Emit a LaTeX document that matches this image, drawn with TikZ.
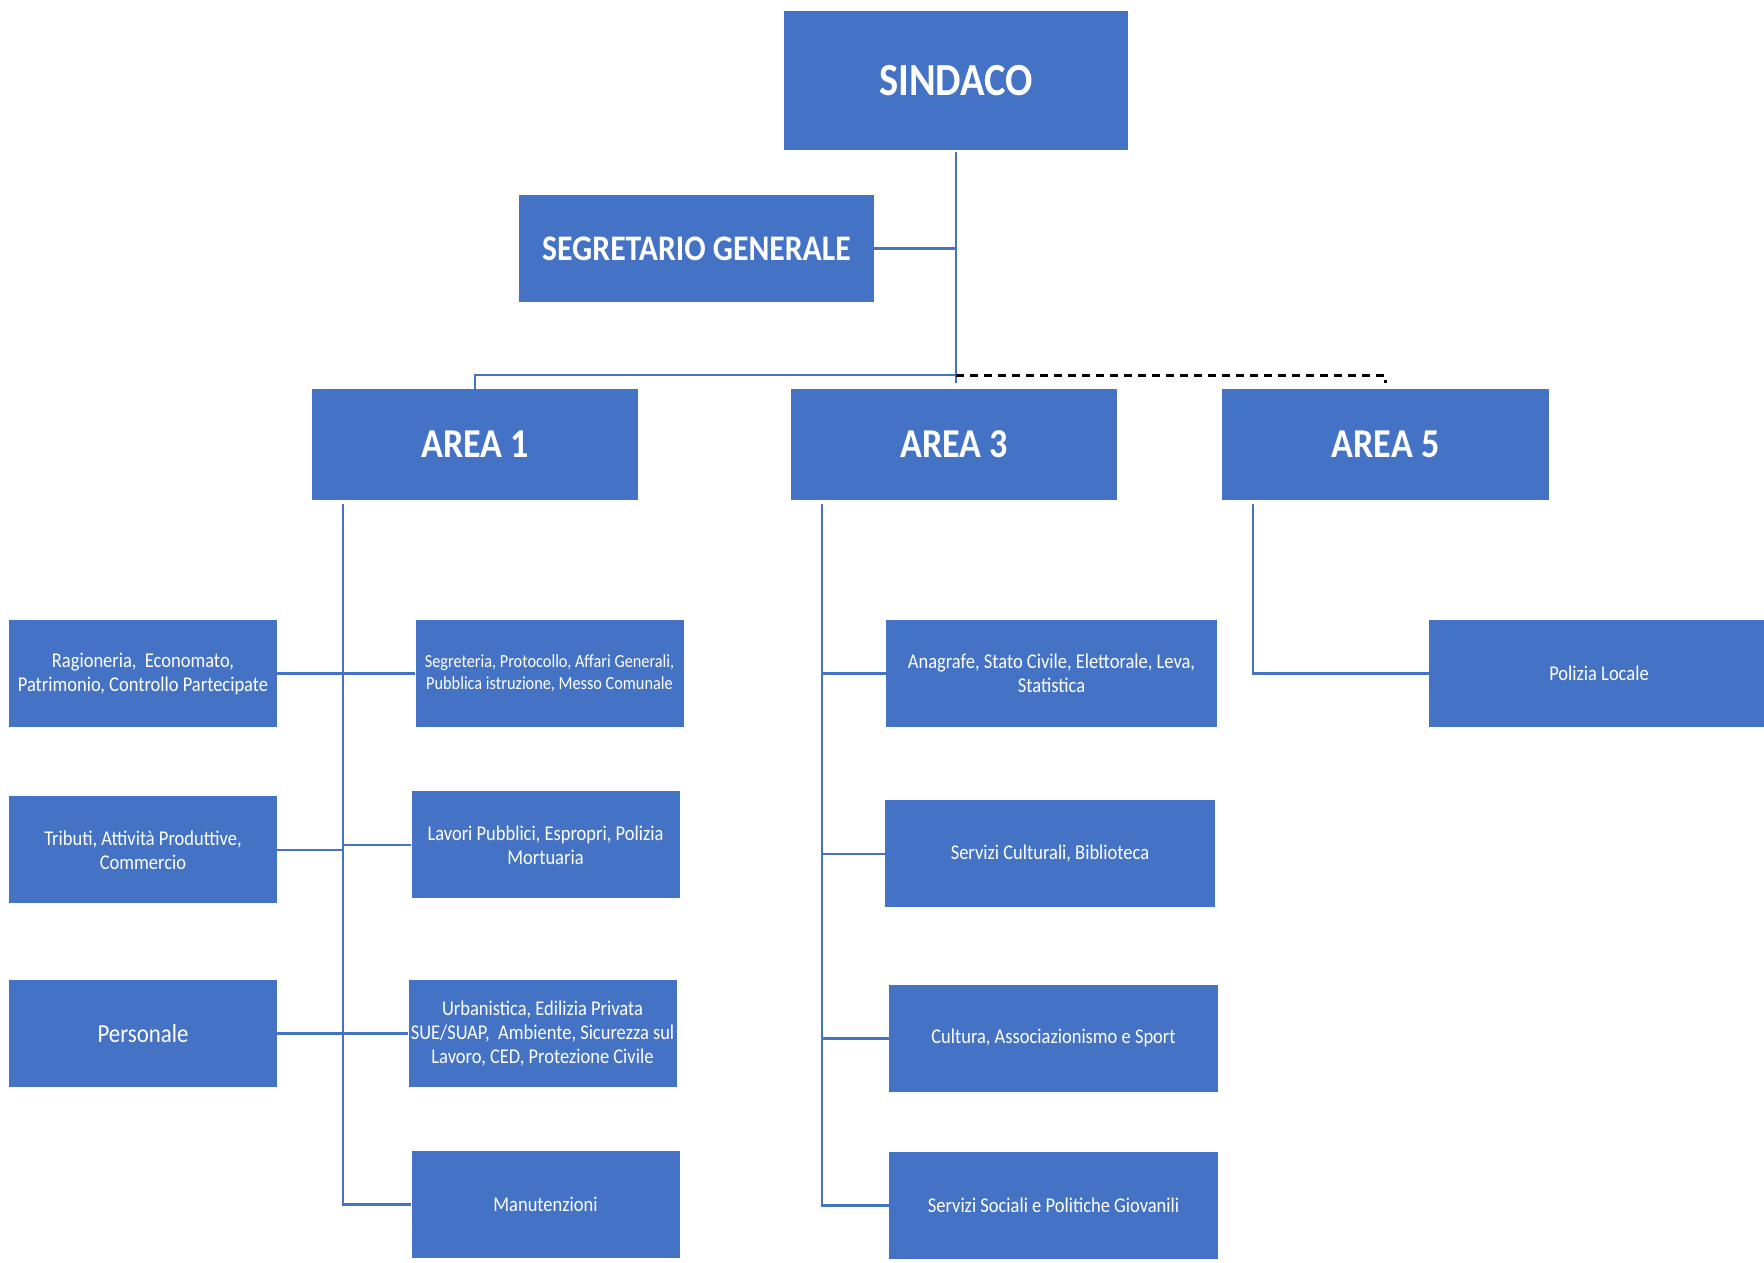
\documentclass[tikz,border=0pt]{standalone}
\usepackage{fontspec}
\setmainfont{Carlito}[FakeStretch=0.88]
\usepackage{xcolor}
\definecolor{ofblue}{HTML}{4472C4}
\usepackage{tikz}
\usetikzlibrary{positioning}

\tikzset{
  box/.style={fill=ofblue, text=white, align=center, inner sep=0pt, minimum height=107pt},
  head/.style={box, font=\bfseries\fontsize{41}{48}\selectfont},
  unit/.style={box, minimum width=268pt, font=\fontsize{21}{24}\selectfont},
  link/.style={draw=ofblue, line width=2.5pt},
}

\begin{document}
\begin{tikzpicture}[x=1pt, y=-1pt]
    \fill[white] (0,0) rectangle (1764,1263);
    \useasboundingbox (0,0) rectangle (1764,1263);

    \node [head, minimum width=344pt, minimum height=139pt, font=\bfseries\fontsize{46}{52}\selectfont] (sindaco) at (956,80.5) {SINDACO};
    \node [head, minimum width=355pt, font=\bfseries\fontsize{36}{42}\selectfont] (segr) at (696.5,248.5) {SEGRETARIO GENERALE};

    \node [head, minimum width=326pt, minimum height=111pt] (area1) at (475,444.5) {AREA 1};
    \node [head, minimum width=326pt, minimum height=111pt] (area3) at (954,444.5) {AREA 3};
    \node [head, minimum width=327pt, minimum height=111pt] (area5) at (1385.5,444.5) {AREA 5};

    \node [unit] (ragion) at (143,673.5) {Ragioneria,\ \ Economato,\\Patrimonio, Controllo Partecipate};
    \node [unit, below=69pt of ragion] (tributi) {Tributi, Attività Produttive,\\Commercio};
    \node [unit, below=76pt of tributi, font=\fontsize{26}{30}\selectfont] (personale) {Personale};

    \node [unit, font=\fontsize{18.5}{22}\selectfont] (segreteria) at (549.5,673.5) {Segreteria, Protocollo, Affari Generali,\\Pubblica istruzione, Messo Comunale};
    \node [unit, below=64pt of segreteria, xshift=-4pt] (lavori) {Lavori Pubblici, Espropri, Polizia\\Mortuaria};
    \node [unit, below=81pt of lavori, xshift=-3pt] (urban) {Urbanistica, Edilizia Privata\\SUE/SUAP,\ \ Ambiente, Sicurezza sul\\Lavoro, CED, Protezione Civile};
    \node [unit, below=64pt of urban, xshift=3pt] (manut) {Manutenzioni};

    \node [unit, minimum width=331pt] (anagrafe) at (1051.5,673.5) {Anagrafe, Stato Civile, Elettorale, Leva,\\Statistica};
    \node [unit, minimum width=330pt, below=73pt of anagrafe, xshift=-1.5pt] (servcult) {Servizi Culturali, Biblioteca};
    \node [unit, minimum width=329pt, below=77pt of servcult, xshift=3.5pt] (cultura) {Cultura, Associazionismo e Sport};
    \node [unit, minimum width=329pt, below=60pt of cultura] (servsoc) {Servizi Sociali e Politiche Giovanili};

    \node [unit, minimum width=340pt] (polizia) at (1599,673.5) {Polizia Locale};

    \coordinate (bus) at (sindaco.south |- 0,375);
    \coordinate (t1) at ([xshift=31pt,yshift=-4pt]area1.south west);
    \coordinate (t3) at ([xshift=31pt,yshift=-4pt]area3.south west);
    \coordinate (t5) at ([xshift=31pt,yshift=-4pt]area5.south west);

    \draw [link] ([yshift=-2pt]sindaco.south) -- ([yshift=-8pt]bus);
    \draw [link] (segr.east) -- (segr.east -| sindaco.south);
    \draw [link] (bus) -| (area1.north);
    \draw [line width=3pt, dash pattern=on 8pt off 6pt] (bus) -| ([yshift=-8pt]bus -| area5.north);

    \draw [link] (t1) |- (manut.west);
    \draw [link] (ragion.east) -- (segreteria.west);
    \draw [link] (tributi.east) -- (tributi.east -| t1);
    \draw [link] (lavori.west) -- (lavori.west -| t1);
    \draw [link] (personale.east) -- (urban.west);

    \draw [link] (t3) |- (servsoc.west);
    \draw [link] (anagrafe.west) -- (anagrafe.west -| t3);
    \draw [link] (servcult.west) -- (servcult.west -| t3);
    \draw [link] (cultura.west) -- (cultura.west -| t3);

    \draw [link] (t5) |- (polizia.west);
\end{tikzpicture}
\end{document}
